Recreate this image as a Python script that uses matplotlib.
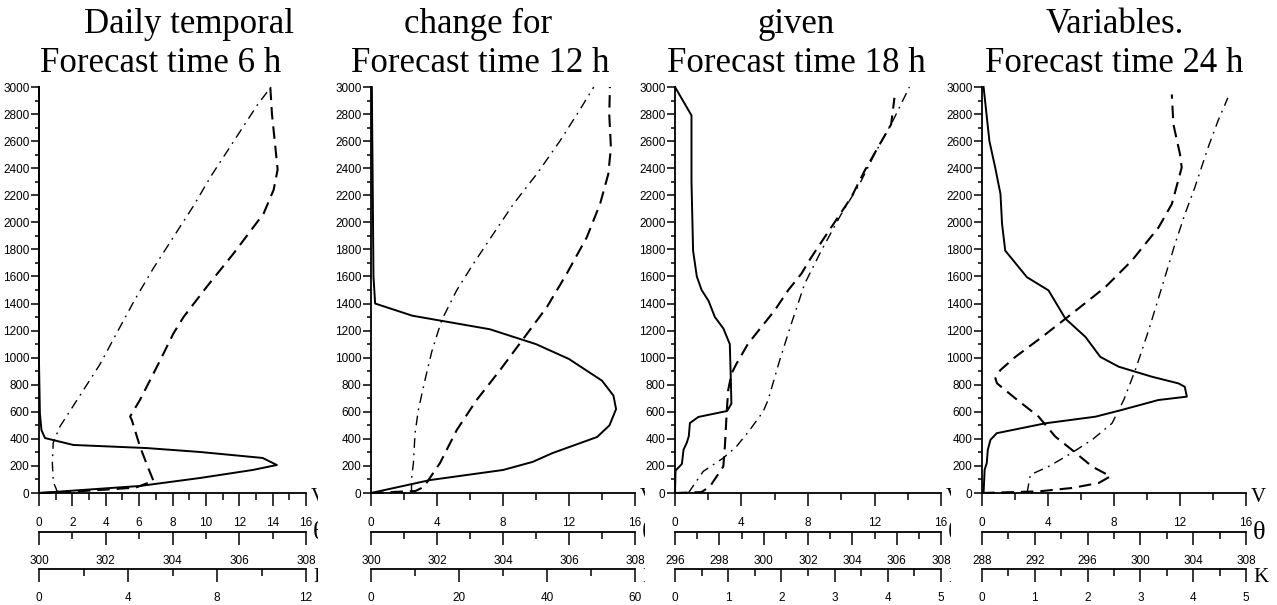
import matplotlib
matplotlib.use("Agg")
import matplotlib.pyplot as plt
from matplotlib.patches import Rectangle
from matplotlib.ticker import MultipleLocator, FuncFormatter

plt.rcParams["font.family"] = ["Liberation Sans Narrow", "Liberation Sans", "DejaVu Sans"]
plt.rcParams["lines.scale_dashes"] = False

W, H = 1277, 605

# ---- data (height in m) ----
# forecast 6 h
H6_V = [0, 10, 80, 220, 370, 490, 720, 950, 1180, 1430, 1660, 1890, 2120, 2340, 2870, 3000]
V6 = [1.15, 1.1, 0.86, 0.8, 0.85, 1.25, 2.45, 3.65, 4.65, 5.75, 6.85, 8.05, 9.25, 10.3, 13.1, 13.9]
H6_TH = [0, 10, 25, 40, 90, 180, 340, 540, 565, 690, 980, 1180, 1300, 1525, 1770, 2065,
         2240, 2390, 2560, 2800, 3000]
TH6 = [300.0, 301.0, 302.0, 302.9, 303.43, 303.28, 303.03, 302.78, 302.73, 303.03, 303.63,
       304.03, 304.33, 305.03, 305.83, 306.73, 307.03, 307.15, 307.08, 306.98, 306.93]
H6_K = [0, 52, 111, 170, 207, 259, 303, 332, 355, 406, 465, 590, 960, 3000]
K6 = [0, 4.54, 7.24, 9.6, 10.69, 10.05, 7.24, 4.84, 1.54, 0.27, 0.11, 0.04, 0, 0]

# forecast 12 h
H12_V = [0, 120, 221, 442, 614, 834, 1043, 1276, 1497, 1693, 1914, 2135, 2356, 2601, 2834, 3000]
V12 = [2.45, 2.47, 2.57, 2.67, 2.87, 3.27, 3.68, 4.28, 5.19, 6.2, 7.41, 8.63, 10.04, 11.45,
       12.67, 13.5]
H12_TH = [0, 15, 45, 221, 466, 687, 908, 1141, 1374, 1620, 1890, 2135, 2356, 2552, 2798, 3000]
TH12 = [300.0, 301.35, 301.6, 302.09, 302.6, 303.2, 303.91, 304.62, 305.33, 305.93, 306.54,
        306.94, 307.19, 307.27, 307.22, 307.24]
H12_K = [0, 96, 170, 230, 295, 414, 500, 620, 720, 830, 990, 1100, 1210, 1310, 1400, 1600,
         2300, 3000]
K12 = [0, 13.5, 30.0, 36.75, 41.25, 51.4, 54.2, 55.7, 55.1, 52.5, 45.0, 37.5, 27.0, 9.4,
       0.94, 0.56, 0.38, 0.19]

# forecast 18 h
H18_V = [0, 160, 258, 344, 466, 601, 687, 982, 1252, 1546, 1791, 2061, 2282, 2503, 2749, 3000]
V18 = [0.8, 1.7, 2.9, 3.7, 4.5, 5.3, 5.6, 6.3, 7.0, 7.8, 8.8, 10.0, 11.1, 12.0, 13.1, 14.1]
H18_TH = [0, 7, 49, 196, 344, 589, 761, 883, 957, 1104, 1227, 1350, 1497, 1620, 1742, 1890,
          2037, 2184, 2380, 2552, 2724, 2920]
TH18 = [296.0, 297.2, 297.58, 298.18, 298.25, 298.33, 298.4, 298.55, 298.78, 299.3, 299.9,
        300.5, 301.1, 301.7, 302.15, 302.75, 303.35, 303.95, 304.55, 305.15, 305.75, 305.9]
H18_K = [0, 165, 215, 320, 370, 420, 517, 562, 606, 660, 830, 1100, 1215, 1300, 1420, 1500,
         1600, 1790, 2300, 2790, 3000]
K18 = [0, 0.01, 0.13, 0.16, 0.22, 0.26, 0.28, 0.44, 0.98, 1.06, 1.05, 1.03, 0.91, 0.75, 0.63,
       0.5, 0.41, 0.34, 0.31, 0.31, 0]

# forecast 24 h
H24_V = [0, 135, 196, 282, 393, 515, 687, 908, 1202, 1521, 1841, 2061, 2258, 2552, 2749, 2920]
V24 = [2.73, 2.93, 4.04, 5.25, 6.67, 7.88, 8.59, 9.29, 10.1, 10.9, 11.7, 12.3, 12.9, 13.7,
       14.3, 14.9]
H24_TH = [0, 12, 37, 74, 123, 196, 319, 417, 564, 699, 810, 847, 908, 1006, 1153, 1325, 1521,
          1718, 1963, 2135, 2405, 2503, 2724, 2945]
TH24 = [288.0, 292.29, 294.81, 296.84, 297.73, 296.34, 294.81, 293.55, 292.29, 290.53, 289.14,
        289.01, 289.39, 290.53, 292.55, 294.81, 297.34, 299.36, 301.38, 302.38, 303.13, 303.0,
        302.5, 302.38]
H24_K = [0, 172, 221, 319, 393, 442, 515, 564, 614, 687, 712, 785, 810, 859, 933, 1006, 1153,
         1288, 1497, 1595, 1791, 1988, 2209, 2405, 2601, 3000]
K24 = [0.03, 0.05, 0.09, 0.11, 0.16, 0.28, 1.2, 2.15, 2.65, 3.34, 3.88, 3.84, 3.72, 3.22, 2.59,
       2.24, 1.96, 1.58, 1.26, 0.85, 0.44, 0.38, 0.35, 0.25, 0.14, 0.03]

TITLE_TOP = ["Daily temporal", "change for", "given", "Variables."]
TITLE_BOTTOM = ["Forecast time 6 h", "Forecast time 12 h", "Forecast time 18 h",
                "Forecast time 24 h"]

# axis scales: (lo, hi, major, minor)
V_AX = [(0, 16, 2, 1), (0, 16, 4, 2), (0, 16, 4, 2), (0, 16, 4, 2)]
TH_AX = [(300, 308, 2, 1), (300, 308, 2, 1), (296, 308, 2, 1), (288, 308, 4, 2)]
K_AX = [(0, 12, 4, 2), (0, 60, 20, 10), (0, 5, 1, 0.5), (0, 5, 1, 0.5)]

PROFILES = [
    (H6_V, V6, H6_TH, TH6, H6_K, K6),
    (H12_V, V12, H12_TH, TH12, H12_K, K12),
    (H18_V, V18, H18_TH, TH18, H18_K, K18),
    (H24_V, V24, H24_TH, TH24, H24_K, K24),
]

# ---- layout (pixels) ----
PANEL_X = [(39, 306), (371, 635), (675, 941), (982, 1246)]
TOP_PX, BOT_PX = 87, 493
TITLE1_X = [189, 478, 796, 1115]
TITLE2_X = [161, 480, 796, 1114]
CLIP_X = [318, 645, 951, W]  # where the next panel hides the axis letters

PT = 0.72  # points per pixel at dpi 100
DASHED = (0, (9, 5))
DASHDOT = (0, (7, 4, 1.3, 4))
SERIF = ["Liberation Serif", "DejaVu Serif"]
fmt = FuncFormatter(lambda v, _: f"{v:g}")


def style_x(ax, lo, hi, major, minor, pad):
    ax.set_xlim(lo, hi)
    ax.xaxis.set_major_locator(MultipleLocator(major))
    ax.xaxis.set_minor_locator(MultipleLocator(minor))
    ax.xaxis.set_major_formatter(fmt)
    ax.tick_params(axis="x", which="major", direction="out", length=13 * PT, width=1.1,
                   pad=pad, labelsize=8.5)
    ax.tick_params(axis="x", which="minor", direction="out", length=7 * PT, width=1.1)
    ax.spines["bottom"].set_linewidth(1.3)


fig = plt.figure(figsize=(W / 100, H / 100), dpi=100)

for i, (l, r) in enumerate(PANEL_X):
    hv, v, hth, th, hk, k = PROFILES[i]
    ax = fig.add_axes([l / W, (H - BOT_PX) / H, (r - l) / W, (BOT_PX - TOP_PX) / H])
    ax.patch.set_visible(False)
    ax.set_ylim(0, 3000)
    ax.yaxis.set_major_locator(MultipleLocator(200))
    ax.yaxis.set_minor_locator(MultipleLocator(100))
    ax.tick_params(axis="y", which="major", direction="out", length=8 * PT, width=1.1,
                   pad=1, labelsize=8.5)
    ax.tick_params(axis="y", which="minor", direction="out", length=4 * PT, width=1.1)
    ax.spines["left"].set_linewidth(1.3)
    for side in ("top", "right"):
        ax.spines[side].set_visible(False)
    style_x(ax, *V_AX[i], pad=8)
    ax.plot(v, hv, color="k", lw=1.0, ls=DASHDOT, clip_on=False)

    # theta axis
    ax_t = ax.twiny()
    ax_t.xaxis.set_ticks_position("bottom")
    for side in ("top", "left", "right"):
        ax_t.spines[side].set_visible(False)
    ax_t.spines["bottom"].set_visible(True)
    ax_t.spines["bottom"].set_position(("outward", 39 * PT))
    style_x(ax_t, *TH_AX[i], pad=7)
    ax_t.plot(th, hth, color="k", lw=1.5, ls=DASHED, clip_on=False)

    # K axis
    ax_k = ax.twiny()
    ax_k.xaxis.set_ticks_position("bottom")
    for side in ("top", "left", "right"):
        ax_k.spines[side].set_visible(False)
    ax_k.spines["bottom"].set_visible(True)
    ax_k.spines["bottom"].set_position(("outward", 76 * PT))
    style_x(ax_k, *K_AX[i], pad=7.5)
    ax_k.plot(k, hk, color="k", lw=1.4, ls="-", clip_on=False)

    # titles
    fig.text(TITLE1_X[i] / W, (H - 33) / H, TITLE_TOP[i], ha="center", va="baseline",
             fontsize=25, family=SERIF)
    fig.text(TITLE2_X[i] / W, (H - 72) / H, TITLE_BOTTOM[i], ha="center", va="baseline",
             fontsize=25, family=SERIF)

    # axis letters
    clip = Rectangle((0, 0), CLIP_X[i] / W, 1, transform=fig.transFigure)
    for s, dx, y, fs in (("V", 5, 497, 15), ("\u03b8", 7, 533, 19), ("K", 7, 577, 15)):
        t = fig.text((r + dx) / W, (H - y) / H, s, ha="left", va="center", fontsize=fs,
                     family=SERIF)
        t.set_clip_path(clip)

fig.savefig("out.png", dpi=100)
